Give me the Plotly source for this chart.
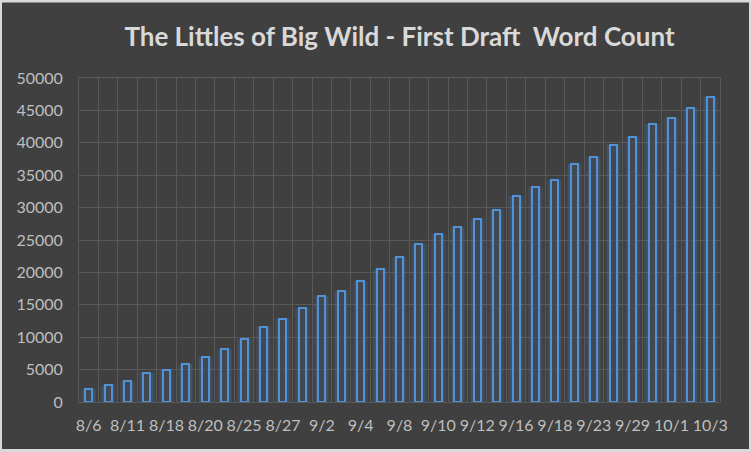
import plotly.graph_objects as go

# Labeled dates (every other bar carries a label in the reference)
tick_labels = ["8/6", "8/11", "8/18", "8/20", "8/25", "8/27", "9/2", "9/4", "9/8",
               "9/10", "9/12", "9/16", "9/18", "9/23", "9/29", "10/1", "10/3"]

# Cumulative word count per writing session (33 bars)
word_counts = [2000, 2700, 3200, 4400, 4900, 5900, 7000, 8200, 9800, 11650, 12880,
               14580, 16430, 17200, 18600, 20600, 22340, 24450, 25850, 26930, 28300,
               29700, 31860, 33250, 34330, 36800, 37880, 39690, 40970, 42970, 43900,
               45440, 47140]

y_ticks = [0, 5000, 10000, 15000, 20000, 25000, 30000, 35000, 40000, 45000, 50000]

x = list(range(len(word_counts)))
tick_pos = x[::2]

BG = "#404040"
GRID = "#595959"
TXT = "#bfbfbf"
BLUE = "#5191d6"
FONT = "Lato"

fig = go.Figure()
# soft glow behind bars
fig.add_trace(go.Bar(x=x, y=word_counts, width=0.78,
                     marker=dict(color="rgba(81,145,214,0.10)", line=dict(width=0)),
                     hoverinfo="skip", showlegend=False))
fig.add_trace(go.Bar(x=x, y=word_counts, width=0.6,
                     marker=dict(color="rgba(81,145,214,0.16)", line=dict(width=0)),
                     hoverinfo="skip", showlegend=False))
fig.add_trace(go.Bar(x=x, y=word_counts, width=0.36,
                     marker=dict(color="rgba(64,64,64,0.55)", line=dict(color=BLUE, width=2)),
                     showlegend=False, name="Word Count"))

fig.update_layout(
    width=751, height=452,
    margin=dict(l=79, r=31, t=78, b=50),
    paper_bgcolor=BG, plot_bgcolor=BG,
    barmode="overlay", bargap=0,
    title=dict(text="The Littles of Big Wild - First Draft  Word Count",
               x=0.5, xref="paper", xanchor="center",
               y=1 - 37 / 452, yanchor="middle",
               font=dict(family=FONT, size=26, color="#d9d9d9", weight="bold")),
    font=dict(family=FONT, color=TXT, size=16),
    shapes=[dict(type="rect", xref="paper", yref="paper",
                 x0=-79 / 641 + 0.5 / 641, x1=1 + 31 / 641 - 0.5 / 641,
                 y0=-50 / 324 + 1.5 / 324, y1=1 + 78 / 324 - 1 / 324,
                 line=dict(color="#d9d9d9", width=3), fillcolor="rgba(0,0,0,0)",
                 layer="above")],
)

fig.update_xaxes(
    range=[-0.5, len(word_counts) - 0.5],
    tickmode="array", tickvals=tick_pos, ticktext=tick_labels,
    showgrid=False, zeroline=False,
    showline=True, mirror=True, linecolor=GRID, linewidth=1,
    ticks="", ticklabelstandoff=9,
    tickfont=dict(family=FONT, size=16, color=TXT),
    minor=dict(tickmode="array", tickvals=[i - 0.5 for i in range(len(word_counts) + 1)],
               showgrid=True, gridcolor=GRID, gridwidth=1, ticks=""),
)
fig.update_yaxes(
    range=[0, 50000],
    tickmode="array", tickvals=y_ticks, ticktext=[str(v) for v in y_ticks],
    showgrid=True, gridcolor=GRID, gridwidth=1, zeroline=False,
    showline=True, mirror=True, linecolor=GRID, linewidth=1,
    ticks="", ticklabelstandoff=12,
    tickfont=dict(family=FONT, size=16, color=TXT),
)

fig.write_html("out.html", config={"displayModeBar": False},
               post_script="document.body.style.margin='0';document.body.style.padding='0';")
